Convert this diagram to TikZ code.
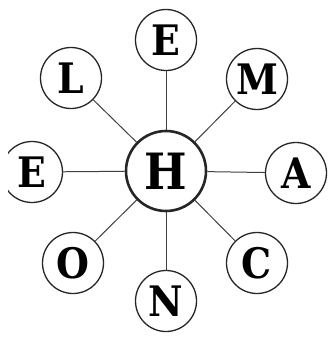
\documentclass[tikz,border=0pt]{standalone}
\usepackage{fontspec}
\newfontfamily\letterfont{DejaVu Serif Condensed}
\tikzset{
  outer/.style={circle, draw=black!85, line width=1.3pt, minimum size=61pt, inner sep=0pt, font=\letterfont\bfseries\fontsize{42}{42}\selectfont},
  hub/.style={circle, draw=black!85, line width=2.6pt, minimum size=80pt, inner sep=0pt, font=\letterfont\bfseries\fontsize{50}{50}\selectfont},
  link/.style={draw=black!75, line width=1pt}
}
\begin{document}
\begin{tikzpicture}[x=1pt,y=-1pt]
\useasboundingbox (0,0) rectangle (327,337);
\clip (8,9) rectangle (327,337);
\node[hub] (h) at (166,171) {H};
\node[outer] (et) at (166,40) {E};
\node[outer] (m) at (257,79) {M};
\node[outer] (a) at (296,173) {A};
\node[outer] (c) at (257,263) {C};
\node[outer] (n) at (166,301) {N};
\node[outer] (o) at (73,263) {O};
\node[outer] (el) at (32,172) {E};
\node[outer] (l) at (71,78) {L};
\foreach \t in {et,m,a,c,n,o,el,l}{\draw[link] (h) -- (\t);}
\end{tikzpicture}
\end{document}
